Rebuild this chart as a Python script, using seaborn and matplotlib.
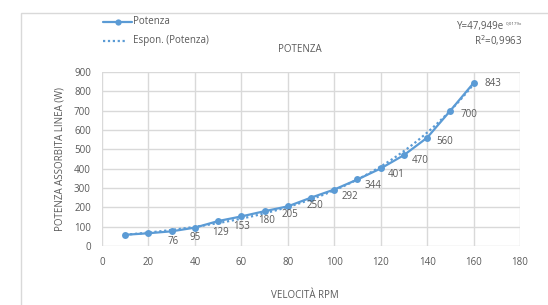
import numpy as np
import pandas as pd
import matplotlib
matplotlib.use("Agg")
import matplotlib.pyplot as plt
import seaborn as sns
from matplotlib.patches import Rectangle
from matplotlib.lines import Line2D

# ---- data ----
rpm = [10, 20, 30, 40, 50, 60, 70, 80, 90, 100, 110, 120, 130, 140, 150, 160]
potenza = [58, 66, 76, 95, 129, 153, 180, 205, 250, 292, 344, 401, 470, 560, 700, 843]
labelled = [False, False] + [True] * 14
x_ticks = [0, 20, 40, 60, 80, 100, 120, 140, 160, 180]
y_ticks = [0, 100, 200, 300, 400, 500, 600, 700, 800, 900]
eq_base = "Y=47,949e"
eq_exp = "0,0179x"
r2_text = "R$^{2}$=0,9963"

df = pd.DataFrame({"rpm": rpm, "potenza": potenza})

sns.set_theme(style="white")
plt.rcParams["font.family"] = ["Open Sans", "DejaVu Sans"]

BLUE = "#5B9BD5"
GRID = "#D9D9D9"
TXT = "#595959"
FS = 7

W, H = 548, 305
fig = plt.figure(figsize=(W / 100, H / 100), dpi=100)
ax = fig.add_axes([102 / W, 1 - 246 / H, (520 - 102) / W, (246 - 72) / H])

# outer chart border
fig.patches.append(Rectangle((21 / W, -0.1), 1.2, 1 - 13 / H + 0.1,
                             transform=fig.transFigure, fill=False,
                             edgecolor=GRID, linewidth=1.0))

# exponential trend fitted from data
coef = np.polyfit(np.array(rpm, float), np.log(np.array(potenza, float)), 1)
xf = np.linspace(rpm[0], rpm[-1], 200)
yf = np.exp(coef[1]) * np.exp(coef[0] * xf)
trend = pd.DataFrame({"rpm": xf, "fit": yf})
sns.lineplot(data=trend, x="rpm", y="fit", ax=ax, color=BLUE, linewidth=1.6,
             linestyle=(0, (1, 1.2)), zorder=3)

sns.lineplot(data=df, x="rpm", y="potenza", ax=ax, color=BLUE, linewidth=1.6,
             marker="o", markersize=5, markeredgewidth=0, zorder=4)

ax.set_xlim(0, 180)
ax.set_ylim(0, 900)
ax.set_xticks(x_ticks)
ax.set_yticks(y_ticks)
ax.grid(True, color=GRID, linewidth=1.0)
for s in ax.spines.values():
    s.set_visible(False)
ax.tick_params(axis="both", length=0, labelsize=FS, labelcolor=TXT, pad=8)
ax.set_xlabel("")
ax.set_ylabel("")

# data labels
offs = [(0, 0), (0, 0), (1, -10), (0, -10), (2, -11), (0, -10), (2, -9), (2, -8),
        (4, -8), (7, -7), (7, -6), (7, -6), (8, -5), (9, -4), (10, -4), (11, 0)]
for x, y, show, (dx, dy) in zip(rpm, potenza, labelled, offs):
    if not show:
        continue
    ha = "left" if dx > 5 else "center"
    ax.annotate(str(y), (x, y), xytext=(dx * 0.72, dy * 0.72), textcoords="offset points",
                ha=ha, va="center", fontsize=FS, color=TXT, zorder=5)

fig.text(60 / W, 1 - 159 / H, "POTENZA ASSORBITA LINEA (W)", rotation=90,
         ha="center", va="center", fontsize=FS, color=TXT)
fig.text(305 / W, 1 - 296 / H, "VELOCITÀ RPM", ha="center", va="center",
         fontsize=FS, color=TXT)
fig.text(300 / W, 1 - 50 / H, "POTENZA", ha="center", va="center",
         fontsize=FS, color=TXT)

# legend
fig.lines.append(Line2D([103 / W, 132 / W], [1 - 22 / H] * 2, transform=fig.transFigure,
                        color=BLUE, linewidth=1.6))
fig.lines.append(Line2D([117.5 / W], [1 - 22 / H], transform=fig.transFigure,
                        color=BLUE, marker="o", markersize=4.5, markeredgewidth=0))
fig.text(133 / W, 1 - 22 / H, "Potenza", ha="left", va="center", fontsize=FS, color=TXT)
fig.lines.append(Line2D([103 / W, 127 / W], [1 - 41 / H] * 2, transform=fig.transFigure,
                        color=BLUE, linewidth=1.6, linestyle=(0, (1, 1.2))))
fig.text(133 / W, 1 - 41 / H, "Espon. (Potenza)", ha="left", va="center",
         fontsize=FS, color=TXT)

fig.text(504 / W, 1 - 27 / H, eq_base, ha="right", va="center", fontsize=FS, color=TXT)
fig.text(522 / W, 1 - 23 / H, eq_exp, ha="right", va="center", fontsize=3.2, color=TXT)
fig.text(522 / W, 1 - 41 / H, r2_text, ha="right", va="center", fontsize=FS, color=TXT)

fig.savefig("out.png", dpi=100)
